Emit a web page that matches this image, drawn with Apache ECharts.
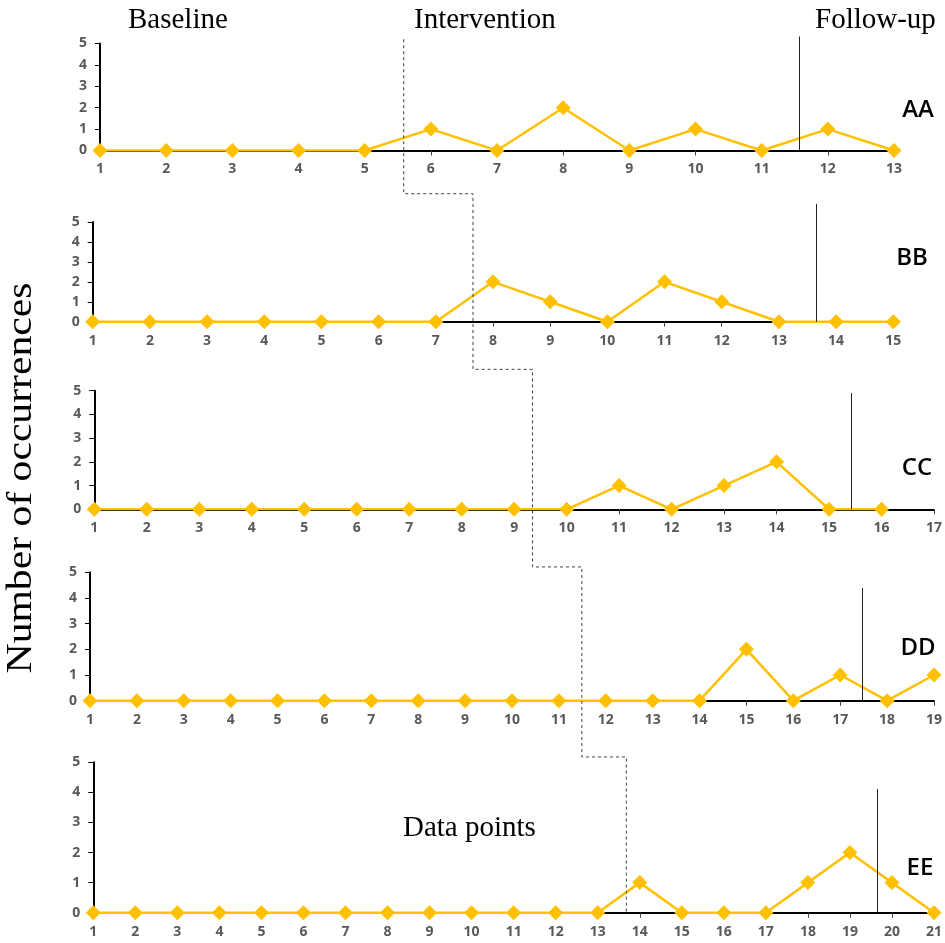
<!DOCTYPE html>
<html><head><meta charset="utf-8">
<script src="https://cdn.jsdelivr.net/npm/echarts@6/dist/echarts.min.js"></script>
<style>html,body{margin:0;padding:0;background:#fff}#c{width:945px;height:943px}</style>
</head><body><div id="c"></div>
<script>
// ---- data ----
const panelNames = ['AA', 'BB', 'CC', 'DD', 'EE'];
const axisMax = [13, 15, 17, 19, 21];
const valuesAA = [0,0,0,0,0,1,0,2,0,1,0,1,0];
const valuesBB = [0,0,0,0,0,0,0,2,1,0,2,1,0,0,0];
const valuesCC = [0,0,0,0,0,0,0,0,0,0,1,0,1,2,0,0];
const valuesDD = [0,0,0,0,0,0,0,0,0,0,0,0,0,0,2,0,1,0,1];
const valuesEE = [0,0,0,0,0,0,0,0,0,0,0,0,0,1,0,0,0,1,2,1,0];
const phaseChangeX = [5.59, 7.65, 9.35, 11.49, 13.68];
const followUpX = [11.56, 13.64, 15.42, 17.47, 19.65];
const yMin = 0, yMax = 5;
const phaseTitles = ['Baseline', 'Intervention', 'Follow-up'];
const yTitle = 'Number of occurrences';
const xTitle = 'Data points';

const allValues = [valuesAA, valuesBB, valuesCC, valuesDD, valuesEE];

// ---- layout / style ----
const grids = [
  {left: 100, top: 43.5, width: 794, height: 107},
  {left: 92.7, top: 222, width: 800.6, height: 99.7},
  {left: 94.3, top: 390.7, width: 840, height: 118.6},
  {left: 90, top: 572.3, width: 845.7, height: 128.4},
  {left: 93.3, top: 762.3, width: 841.7, height: 150.4}
];
const dashTopFirst = 5.2;
const dashBottom = [-2.02, -2.39, -2.43, -2.19, 0];
const followUpTop = [5.33, 5.91, 4.9, 4.39, 4.11];
const labelPos = [[918, 110], [912, 258], [917, 468], [918, 648], [920, 868]];
const gold = '#FFC000';
const tickFont = {color: '#595959', fontFamily: 'Open Sans', fontWeight: 'bold', fontSize: 14};

const chart = echarts.init(document.getElementById('c'), null, {renderer: 'canvas'});

const option = {
  animation: false,
  backgroundColor: '#fff',
  grid: grids.map(g => Object.assign({containLabel: false}, g)),
  xAxis: axisMax.map((m, i) => ({
    type: 'value', gridIndex: i, min: 1, max: m, interval: 1,
    splitLine: {show: false},
    axisLine: {show: true, onZero: true, lineStyle: {color: '#000', width: 2}},
    axisTick: {show: true, length: 5, lineStyle: {color: '#404040', width: 1}},
    axisLabel: Object.assign({margin: 12}, tickFont)
  })),
  yAxis: axisMax.map((m, i) => ({
    type: 'value', gridIndex: i, min: yMin, max: yMax, interval: 1,
    splitLine: {show: false},
    axisLine: {show: true, lineStyle: {color: '#000', width: 2}},
    axisTick: {show: true, length: 5, lineStyle: {color: '#000', width: 1}},
    axisLabel: Object.assign({margin: 13}, tickFont)
  })),
  series: allValues.map((vals, i) => ({
    type: 'line', xAxisIndex: i, yAxisIndex: i,
    data: vals.map((v, k) => [k + 1, v]),
    symbol: 'diamond', symbolSize: 15,
    itemStyle: {color: gold},
    lineStyle: {color: gold, width: 2.5},
    z: 5
  }))
};
chart.setOption(option);

// ---- annotations computed through the axes ----
const graphics = [];
const px = (i, x, y) => chart.convertToPixel({gridIndex: i}, [x, y]);

// dashed phase-change step line
const pts = [];
pts.push(px(0, phaseChangeX[0], dashTopFirst));
for (let i = 0; i < 5; i++) {
  const bot = px(i, phaseChangeX[i], dashBottom[i]);
  if (i > 0) pts.push([bot[0], pts[pts.length - 1][1]]);
  pts.push(bot);
}
graphics.push({
  type: 'polyline', silent: true, z: 20,
  shape: {points: pts},
  style: {stroke: '#404040', lineWidth: 1, lineDash: [3, 3], fill: null}
});

// follow-up solid lines
followUpX.forEach((x, i) => {
  const a = px(i, x, followUpTop[i]);
  const b = px(i, x, 0);
  graphics.push({
    type: 'line', silent: true, z: 20,
    shape: {x1: Math.round(a[0]) + 0.5, y1: a[1], x2: Math.round(b[0]) + 0.5, y2: b[1]},
    style: {stroke: '#222', lineWidth: 1}
  });
});

// panel labels
panelNames.forEach((n, i) => {
  graphics.push({
    type: 'text', silent: true, z: 30, x: labelPos[i][0], y: labelPos[i][1],
    style: {text: n, fill: '#000', font: '600 24px "Open Sans"', align: 'center', verticalAlign: 'middle'}
  });
});

// phase titles
const serif = '29px "Liberation Serif"';
[[128, phaseTitles[0]], [414, phaseTitles[1]], [815, phaseTitles[2]]].forEach(([x, t]) => {
  graphics.push({
    type: 'text', silent: true, z: 30, x: x, y: 20,
    style: {text: t, fill: '#000', font: serif, align: 'left', verticalAlign: 'middle'}
  });
});
graphics.push({
  type: 'text', silent: true, z: 30, x: 403, y: 828.5,
  style: {text: xTitle, fill: '#000', font: serif, align: 'left', verticalAlign: 'middle'}
});
graphics.push({
  type: 'text', silent: true, z: 30, x: 21.5, y: 478, rotation: Math.PI / 2, scaleX: 1.19,
  style: {text: yTitle, fill: '#000', font: '35px "Liberation Serif"', align: 'center', verticalAlign: 'middle'}
});

chart.setOption({graphic: graphics});
</script>
</body></html>
